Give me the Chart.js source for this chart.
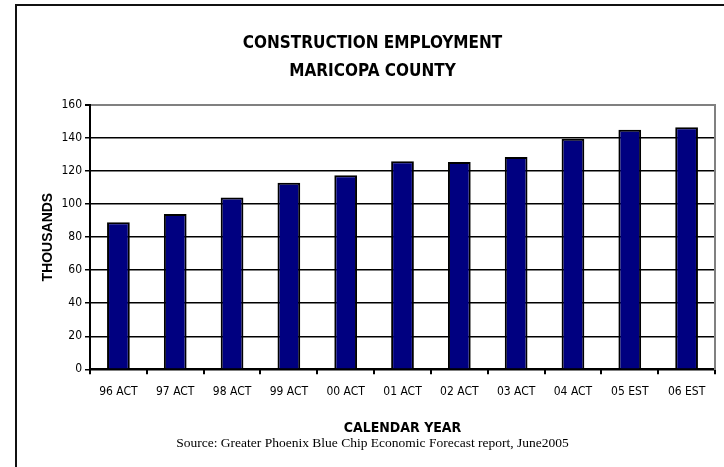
<!DOCTYPE html>
<html>
<head>
<meta charset="utf-8">
<script src="https://cdn.jsdelivr.net/npm/chart.js@4.4.1/dist/chart.umd.min.js"></script>
<style>
  body { margin: 0; background: #fff; overflow: hidden; }
  #frame { position: absolute; left: 15px; top: 4px; width: 800px; height: 500px;
           border-left: 2px solid #111; border-top: 2px solid #111; }
  #wrap { position: absolute; left: 0; top: 0; }
</style>
</head>
<body>
<div id="frame"></div>
<div id="wrap"><canvas id="myChart" width="814" height="467"></canvas></div>
<script>
'use strict';
const years = ['96 ACT', '97 ACT', '98 ACT', '99 ACT', '00 ACT', '01 ACT',
  '02 ACT', '03 ACT', '04 ACT', '05 EST', '06 EST'];
const employment = [89, 94, 104, 113, 117.5, 126, 125.5, 128.5, 139.5, 145, 146.5];
const yMin = 0;
const yMax = 160;
const yStep = 20;

const narrow = "'DejaVu Sans Condensed', 'Arial Narrow', sans-serif";
const plain = "'Liberation Sans', Arial, sans-serif";
const serif = "'Liberation Serif', 'Times New Roman', serif";

const ctx = document.getElementById('myChart').getContext('2d');
const myChart = new Chart(ctx, {
  type: 'bar',
  data: {
    labels: years,
    datasets: [
      {
        label: 'Construction employment',
        data: employment,
        backgroundColor: '#000080',
        borderColor: '#000000',
        borderWidth: 2,
        barPercentage: 0.4,
        categoryPercentage: 1,
      },
    ],
  },
  options: {
    responsive: false,
    animation: false,
    // canvas is wider than the window so the titles centre at x=407
    layout: { padding: { left: 30, right: 99, top: 0, bottom: 0 } },
    plugins: {
      legend: { display: false },
      tooltip: { enabled: false },
      title: {
        display: true,
        text: ['CONSTRUCTION EMPLOYMENT', 'MARICOPA COUNTY'],
        color: '#000',
        font: { family: narrow, size: 17, weight: 'bold', lineHeight: 28 / 17 },
        padding: { top: 30, bottom: 19 },
      },
      subtitle: {
        display: true,
        position: 'bottom',
        text: 'Source: Greater Phoenix Blue Chip Economic Forecast report, June2005',
        color: '#000',
        font: { family: serif, size: 13.5, weight: 'normal', lineHeight: 1 },
        padding: { top: 0, bottom: 17.25 },
      },
    },
    scales: {
      x: {
        grid: {
          display: true,
          drawOnChartArea: false,
          drawTicks: true,
          tickLength: 5,
          color: '#000',
          lineWidth: 2,
          offset: true,
        },
        border: { color: '#000', width: 2 },
        ticks: {
          color: '#000',
          font: { family: narrow, size: 12, lineHeight: 1.1 },
          padding: 11,
          maxRotation: 0,
          autoSkip: false,
        },
        title: {
          display: true,
          text: 'CALENDAR YEAR',
          color: '#000',
          font: { family: narrow, size: 14, weight: 'bold', lineHeight: 1 },
          padding: { top: 11.5, bottom: 1.25 },
        },
      },
      y: {
        min: yMin,
        max: yMax,
        ticks: {
          stepSize: yStep,
          color: '#000',
          font: { family: narrow, size: 12 },
          padding: 3,
        },
        grid: {
          color: c => (c.tick && c.tick.value === yMax ? '#808080' : '#000'),
          lineWidth: c => (c.tick && c.tick.value === yMax ? 2 : 1.5),
          tickColor: '#000',
          tickLength: 5,
        },
        border: { color: '#000', width: 2 },
        title: {
          display: true,
          text: 'THOUSANDS',
          color: '#000',
          font: { family: plain, size: 14, weight: 'bold', lineHeight: 1.2 },
          padding: { top: 9.6, bottom: 0 },
        },
        afterFit: s => { s.width = 60; },
      },
      y2: {
        position: 'right',
        min: yMin,
        max: yMax,
        grid: { display: false, drawOnChartArea: false, drawTicks: false },
        ticks: { display: false },
        border: { display: true, color: '#808080', width: 2 },
        afterFit: s => { s.width = 0; },
      },
    },
  },
});
</script>
</body>
</html>
